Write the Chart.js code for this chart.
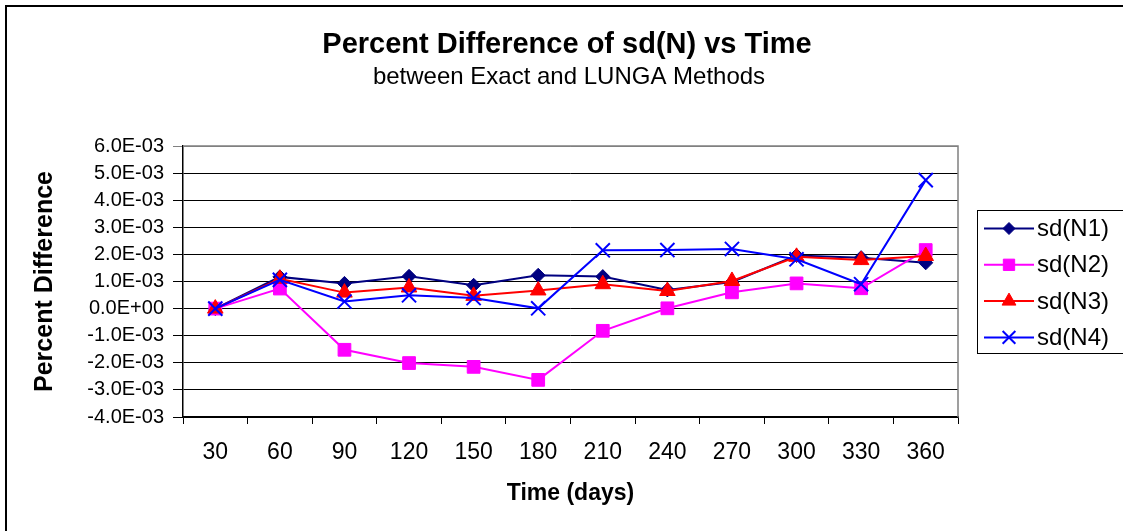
<!DOCTYPE html>
<html>
<head>
<meta charset="utf-8">
<title>Percent Difference of sd(N) vs Time</title>
<script src="https://cdn.jsdelivr.net/npm/chart.js@4/dist/chart.umd.min.js"></script>
<style>
  html, body { margin: 0; padding: 0; background: #fff; }
  #chart { display: block; }
</style>
</head>
<body>
<canvas id="chart" width="1123" height="531"></canvas>
<script>
// Données
const timeDays = ["30", "60", "90", "120", "150", "180", "210", "240", "270", "300", "330", "360"];
const sdN1 = [0, 1.17e-3, 0.93e-3, 1.19e-3, 0.86e-3, 1.23e-3, 1.18e-3, 0.69e-3, 0.98e-3, 1.96e-3, 1.88e-3, 1.69e-3];
const sdN2 = [0, 0.74e-3, -1.52e-3, -2.01e-3, -2.15e-3, -2.63e-3, -0.82e-3, 0.01e-3, 0.60e-3, 0.93e-3, 0.75e-3, 2.16e-3];
const sdN3 = [0, 1.10e-3, 0.59e-3, 0.78e-3, 0.47e-3, 0.67e-3, 0.90e-3, 0.65e-3, 1.02e-3, 1.91e-3, 1.79e-3, 1.94e-3];
const sdN4 = [0, 1.06e-3, 0.26e-3, 0.49e-3, 0.39e-3, 0.01e-3, 2.15e-3, 2.16e-3, 2.20e-3, 1.82e-3, 0.90e-3, 4.74e-3];
const yMin = -4e-3;
const yMax = 6e-3;
const yStep = 1e-3;

const chartTitle = "Percent Difference of sd(N) vs Time";
const chartSubtitle = "between Exact and LUNGA Methods";

const FONT = "Arial, 'Liberation Sans', sans-serif";

// format Excel : 6.0E-03, 0.0E+00
function excelSci(v) {
  if (Math.abs(v) < 1e-12) return "0.0E+00";
  const parts = v.toExponential(1).split("e");
  const exp = parseInt(parts[1], 10);
  const sign = exp < 0 ? "-" : "+";
  const digits = String(Math.abs(exp)).padStart(2, "0");
  return parts[0] + "E" + sign + digits;
}

function drawCentered(ctx, text, font, cx, baseline) {
  ctx.save();
  ctx.font = font;
  ctx.fillStyle = "#000";
  ctx.textAlign = "center";
  ctx.textBaseline = "alphabetic";
  ctx.fillText(text, cx, baseline);
  ctx.restore();
}

// cadre du graphique + bord gris de la zone de tracé + titres
const framePlugin = {
  id: "frame",
  beforeDraw(chart) {
    const ctx = chart.ctx;
    ctx.save();
    ctx.fillStyle = "#fff";
    ctx.fillRect(0, 0, chart.width, chart.height);
    ctx.strokeStyle = "#000";
    ctx.lineWidth = 2;
    ctx.beginPath();
    ctx.moveTo(6, chart.height + 5);
    ctx.lineTo(6, 6);
    ctx.lineTo(chart.width + 5, 6);
    ctx.stroke();
    ctx.restore();
    drawCentered(ctx, chartTitle, "bold 29px " + FONT, 567, 53);
    drawCentered(ctx, chartSubtitle, "24px " + FONT, 569, 84);
  },
  beforeDatasetsDraw(chart) {
    const { ctx, chartArea } = chart;
    ctx.save();
    ctx.strokeStyle = "#808080";
    ctx.lineWidth = 1.5;
    ctx.beginPath();
    ctx.moveTo(chartArea.left, chartArea.top);
    ctx.lineTo(chartArea.right, chartArea.top);
    ctx.lineTo(chartArea.right, chartArea.bottom);
    ctx.stroke();
    ctx.restore();
  }
};

// légende façon Excel : segment + marqueur
const excelLegend = {
  id: "excelLegend",
  afterDraw(chart) {
    const ctx = chart.ctx;
    const boxX = 977, boxY = 210, boxW = 170, boxH = 143;
    const rowGap = 36.3;
    ctx.save();
    ctx.strokeStyle = "#000";
    ctx.lineWidth = 1;
    ctx.strokeRect(boxX + 0.5, boxY + 0.5, boxW, boxH);
    ctx.font = "24px " + FONT;
    ctx.textBaseline = "middle";
    ctx.textAlign = "left";
    chart.data.datasets.forEach((ds, i) => {
      const y = boxY + 18.5 + i * rowGap;
      ctx.strokeStyle = ds.borderColor;
      ctx.lineWidth = ds.borderWidth;
      ctx.beginPath();
      ctx.moveTo(984, y);
      ctx.lineTo(1034, y);
      ctx.stroke();
      const opts = {
        pointStyle: ds.pointStyle,
        radius: ds.pointRadius - 1,
        borderWidth: ds.pointBorderWidth,
        rotation: 0
      };
      ctx.fillStyle = ds.pointBackgroundColor;
      ctx.strokeStyle = ds.pointBorderColor;
      ctx.lineWidth = ds.pointBorderWidth;
      if (Chart.helpers && Chart.helpers.drawPoint) {
        Chart.helpers.drawPoint(ctx, opts, 1009, y);
      }
      ctx.fillStyle = "#000";
      ctx.fillText(ds.label, 1037, y + 1);
    });
    ctx.restore();
  }
};

function makeSeries(label, data, color, style, radius, order) {
  return {
    label: label,
    data: data,
    borderColor: color,
    backgroundColor: color,
    borderWidth: 2,
    pointStyle: style,
    pointRadius: radius,
    pointHoverRadius: radius,
    pointBackgroundColor: color,
    pointBorderColor: color,
    pointBorderWidth: style === "crossRot" ? 2 : 1,
    tension: 0,
    fill: false,
    order: order
  };
}

const chartElement = document.getElementById("chart");

new Chart(chartElement, {
  type: "line",
  data: {
    labels: timeDays,
    datasets: [
      makeSeries("sd(N1)", sdN1, "#000080", "rectRot", 7, 3),
      makeSeries("sd(N2)", sdN2, "#FF00FF", "rect", 9, 2),
      makeSeries("sd(N3)", sdN3, "#FF0000", "triangle", 9, 1),
      makeSeries("sd(N4)", sdN4, "#0000FF", "crossRot", 10, 0)
    ]
  },
  options: {
    responsive: false,
    animation: false,
    layout: { padding: { left: 0, right: 165, top: 146, bottom: 0 } },
    scales: {
      x: {
        type: "category",
        offset: true,
        grid: {
          display: true,
          drawOnChartArea: false,
          drawTicks: true,
          tickLength: 7,
          offset: true,
          color: "#000"
        },
        border: { display: true, color: "#000", width: 1.5 },
        ticks: {
          color: "#000",
          padding: 15,
          maxRotation: 0,
          autoSkip: false,
          font: { family: FONT, size: 23 }
        },
        title: {
          display: true,
          text: "Time (days)",
          color: "#000",
          padding: { top: 0, bottom: 24 },
          font: { family: FONT, size: 23, weight: "bold" }
        },
        afterFit(scale) { scale.height = 114; }
      },
      y: {
        min: yMin,
        max: yMax,
        grid: {
          color: (c) => (c.tick && Math.abs(c.tick.value - yMax) < 1e-9 ? "#808080" : "#000"),
          lineWidth: 1,
          tickLength: 10,
          drawTicks: true
        },
        border: { display: true, color: "#000", width: 1.5 },
        ticks: {
          stepSize: yStep,
          color: "#000",
          padding: 9,
          font: { family: FONT, size: 20 },
          callback: (value) => excelSci(value)
        },
        title: {
          display: true,
          text: "Percent Difference",
          color: "#000",
          padding: { top: 30, bottom: 0 },
          font: { family: FONT, size: 25, weight: "bold" }
        },
        afterFit(scale) { scale.width = 183; }
      }
    },
    plugins: {
      legend: { display: false },
      tooltip: { enabled: false },
      title: { display: false },
      subtitle: { display: false }
    }
  },
  plugins: [framePlugin, excelLegend]
});
</script>
</body>
</html>
